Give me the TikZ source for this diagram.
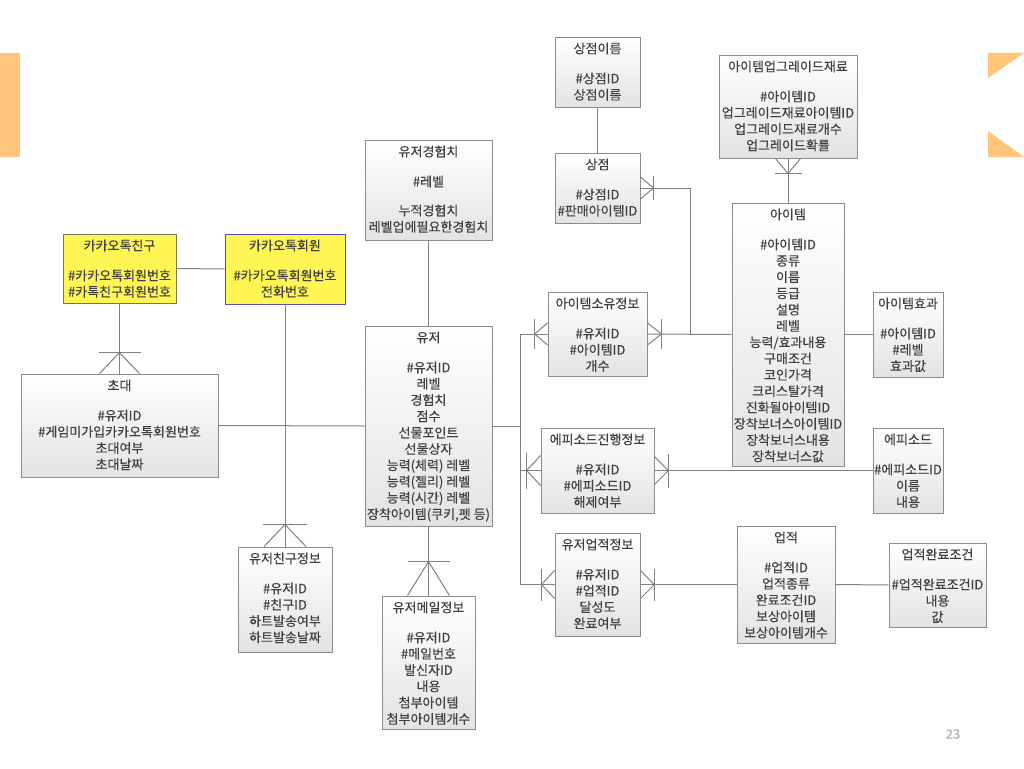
\documentclass[tikz,border=0pt]{standalone}
\usepackage{fontspec}
\setmainfont{Noto Sans CJK KR}[FakeBold=0.3]
\usetikzlibrary{calc,fit,shadows}
\definecolor{linegray}{RGB}{128,128,128}
\definecolor{boxgray}{RGB}{140,140,140}
\definecolor{txtgray}{RGB}{64,64,64}
\definecolor{kyellow}{RGB}{255,245,85}
\definecolor{kyborder}{RGB}{120,120,70}
\definecolor{kbborder}{RGB}{80,80,170}
\definecolor{orng}{RGB}{255,197,122}
\newcommand\ebox[7][erbox]{%
  \node[#1, fit={(#3,#4) (#5,#6)}] (#2) {};
  \node[ertxt] (#2t) at ([yshift=-5.8pt]#2.north) {#7};}
\newcommand\crowv[4]{%
  \draw[conn] ($#1+(-#3,0)$) -- ($#1+(0,#2)$) -- ($#1+(#3,0)$);
  \draw[conn] ($#1+(-#4,#2)$) -- ($#1+(#4,#2)$);}
\newcommand\crowh[4]{%
  \draw[conn] ($#1+(0,-#3)$) -- ($#1+(#2,0)$) -- ($#1+(0,#3)$);
  \draw[conn] ($#1+(#2,-#4)$) -- ($#1+(#2,#4)$);}
\begin{document}
\begin{tikzpicture}[x=1pt,y=-1pt,
  erbox/.style={draw=boxgray, line width=0.9pt, top color=white, bottom color=gray!22, inner sep=0pt,
    drop shadow={shadow xshift=1.2pt, shadow yshift=-1.2pt, opacity=0.3}},
  ybox1/.style={draw=kyborder, line width=0.9pt, fill=kyellow, inner sep=0pt},
  ybox2/.style={draw=kbborder, line width=0.9pt, fill=kyellow, inner sep=0pt},
  ertxt/.style={anchor=north, inner sep=0pt, align=center, text=txtgray, font=\fontsize{13}{16.3}\selectfont},
  conn/.style={draw=linegray, line width=1pt}]
\useasboundingbox (0,0) rectangle (1024,768);
\fill[white] (0,0) rectangle (1024,768);
% decorations
\fill[orng] (0,53) rectangle (20,157);
\fill[orng] (988,53) -- (1024,53) -- (988,78) -- cycle;
\fill[orng] (988,131) -- (988,157) -- (1024,157) -- cycle;
\node[text=gray!60, font=\fontsize{13}{14}\selectfont] (pg) at (953,734) {23};
% boxes
\ebox[ybox1]{kchin}{63}{234}{176}{303}{카카오톡친구\\[13.7pt]\#카카오톡회원번호\\\#카톡친구회원번호}
\ebox[ybox2]{kmem}{225}{234}{345}{304}{카카오톡회원\\[13.7pt]\#카카오톡회원번호\\전화번호}
\ebox{chodae}{21}{374}{218}{477}{초대\\[13.7pt]\#유저ID\\\#게임미가입카카오톡회원번호\\초대여부\\초대날짜}
\ebox{uexp}{365}{140}{492}{240}{유저경험치\\[13.7pt]\#레벨\\[12.7pt]누적경험치\\레벨업에필요한경험치}
\ebox{user}{365}{326}{492}{526}{유저\\[13.7pt]\#유저ID\\레벨\\경험치\\점수\\선물포인트\\선물상자\\능력(체력) 레벨\\능력(젤리) 레벨\\능력(시간) 레벨\\장착아이템(쿠키,펫 등)}
\ebox{ufriend}{238}{547}{332}{652}{유저친구정보\\[13.7pt]\#유저ID\\\#친구ID\\하트발송여부\\하트발송날짜}
\ebox{umail}{382}{596}{475}{729}{유저메일정보\\[13.7pt]\#유저ID\\\#메일번호\\발신자ID\\내용\\첨부아이템\\첨부아이템개수}
\ebox{shopname}{555}{37}{640}{107}{상점이름\\[13.7pt]\#상점ID\\상점이름}
\ebox{shop}{555}{153}{640}{223}{상점\\[13.7pt]\#상점ID\\\#판매아이템ID}
\ebox{upg}{719}{55}{857}{158}{아이템업그레이드재료\\[13.7pt]\#아이템ID\\업그레이드재료아이템ID\\업그레이드재료개수\\업그레이드확률}
\ebox{item}{732}{203}{844}{466}{아이템\\[13.7pt]\#아이템ID\\종류\\이름\\등급\\설명\\레벨\\능력/효과내용\\구매조건\\코인가격\\크리스탈가격\\진화될아이템ID\\장착보너스아이템ID\\장착보너스내용\\장착보너스값}
\ebox{own}{548}{292}{647}{376}{아이템소유정보\\[13.7pt]\#유저ID\\\#아이템ID\\개수}
\ebox{ieff}{873}{292}{943}{377}{아이템효과\\[13.7pt]\#아이템ID\\\#레벨\\효과값}
\ebox{epi}{541}{428}{654}{513}{에피소드진행정보\\[13.7pt]\#유저ID\\\#에피소드ID\\해제여부}
\ebox{episode}{873}{428}{943}{513}{에피소드\\[13.7pt]\#에피소드ID\\이름\\내용}
\ebox{uach}{555}{533}{640}{636}{유저업적정보\\[13.7pt]\#유저ID\\\#업적ID\\달성도\\완료여부}
\ebox{ach}{737}{526}{835}{643}{업적\\[13.7pt]\#업적ID\\업적종류\\완료조건ID\\보상아이템\\보상아이템개수}
\ebox{achc}{889}{543}{986}{627}{업적완료조건\\[13.7pt]\#업적완료조건ID\\내용\\값}
% bus coordinates
\coordinate (busx) at (520,0);
\coordinate (shopx) at (690,0);
% connectors
\draw[conn] (kchin.east) -- (kmem.west);
\draw[conn] (kchin.south) -- (chodae.north);
\draw[conn] (kmem.south) -- (ufriend.north);
\draw[conn] (chodae.east) -- (user.west);
\draw[conn] (uexp.south) -- (user.north);
\draw[conn] (user.south) -- (umail.north);
\draw[conn] (user.east) -- (busx |- user.east);
\draw[conn] (own.west) -- (busx |- own.west) -- (busx |- uach.west) -- (uach.west);
\draw[conn] (epi.west) -- (busx |- epi.west);
\draw[conn] (own.east) -- (item.west);
\draw[conn] (shop.east) -- (shopx |- shop.east) -- (shopx |- own.east);
\draw[conn] (shopname.south) -- (shop.north);
\draw[conn] (upg.south) -- (item.north);
\draw[conn] (item.east) -- (ieff.west);
\draw[conn] (epi.east) -- (episode.west);
\draw[conn] (uach.east) -- (ach.west);
\draw[conn] (ach.east) -- (achc.west);
% crow's feet
\crowv{(chodae.north)}{-21}{20}{21}
\crowv{(ufriend.north)}{-22}{21}{22}
\crowv{(umail.north)}{-34}{21}{21}
\crowv{(upg.south)}{15}{12.5}{13.5}
\crowh{(shop.east)}{13}{11}{12}
\crowh{(own.west)}{-13}{11}{15}
\crowh{(own.east)}{14}{11}{15}
\crowh{(epi.west)}{-14}{15}{18}
\crowh{(epi.east)}{14}{14}{17}
\crowh{(uach.west)}{-13}{14}{16}
\crowh{(uach.east)}{14}{14}{16}
\end{tikzpicture}
\end{document}
